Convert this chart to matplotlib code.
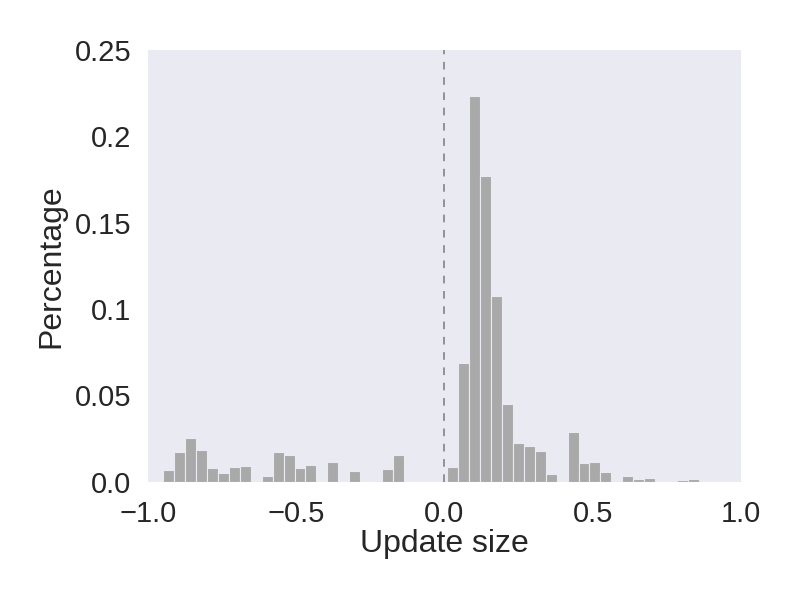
import numpy as np
import matplotlib
matplotlib.use('Agg')
import matplotlib.pyplot as plt

# histogram of update sizes (bin heights)
bin_start = -0.948
bin_width = 0.03686
heights = [
    0.0068, 0.0172, 0.0253, 0.0183, 0.0079, 0.0050, 0.0085, 0.0091, 0.0, 0.0033,
    0.0172, 0.0154, 0.0079, 0.0096, 0.0, 0.0114, 0.0, 0.0062, 0.0, 0.0,
    0.0073, 0.0154, 0.0, 0.0, 0.0, 0.0, 0.0085, 0.0687, 0.2232, 0.1769,
    0.1074, 0.0449, 0.0224, 0.0206, 0.0177, 0.0044, 0.0, 0.0287, 0.0108, 0.0114,
    0.0056, 0.0, 0.0033, 0.0015, 0.0021, 0.0, 0.0, 0.0010, 0.0015,
]
yticks = [0.0, 0.05, 0.1, 0.15, 0.2, 0.25]
ytick_labels = ['0.0', '0.05', '0.1', '0.15', '0.2', '0.25']
xticks = [-1.0, -0.5, 0.0, 0.5, 1.0]

edges = bin_start + bin_width * np.arange(len(heights) + 1)
centers = (edges[:-1] + edges[1:]) / 2

plt.rcParams['font.family'] = ['Liberation Sans', 'DejaVu Sans']

fig = plt.figure(figsize=(8, 6), dpi=100)
ax = fig.add_axes([0.185, 0.197, 0.741, 0.72])
ax.set_facecolor('#EAEAF2')
for s in ax.spines.values():
    s.set_visible(False)

ax.hist(centers, bins=edges, weights=heights, color='#A9A9A9',
        edgecolor='#EAEAF2', linewidth=0.8)
# zero line
ax.axvline(0, color='#7a7a7a', linestyle=(0, (5, 5)), linewidth=1.1)

ax.set_xlim(-1, 1)
ax.set_ylim(0, 0.25)
ax.set_xticks(xticks)
ax.set_yticks(yticks)
ax.set_yticklabels(ytick_labels)
ax.tick_params(length=0, labelsize=21, colors='#262626')
ax.tick_params(axis='x', pad=13)
ax.tick_params(axis='y', pad=12)
ax.set_xlabel('Update size', fontsize=23, color='#262626', labelpad=1)
ax.set_ylabel('Percentage', fontsize=23, color='#262626', labelpad=6)

fig.savefig('out.png', dpi=100)
